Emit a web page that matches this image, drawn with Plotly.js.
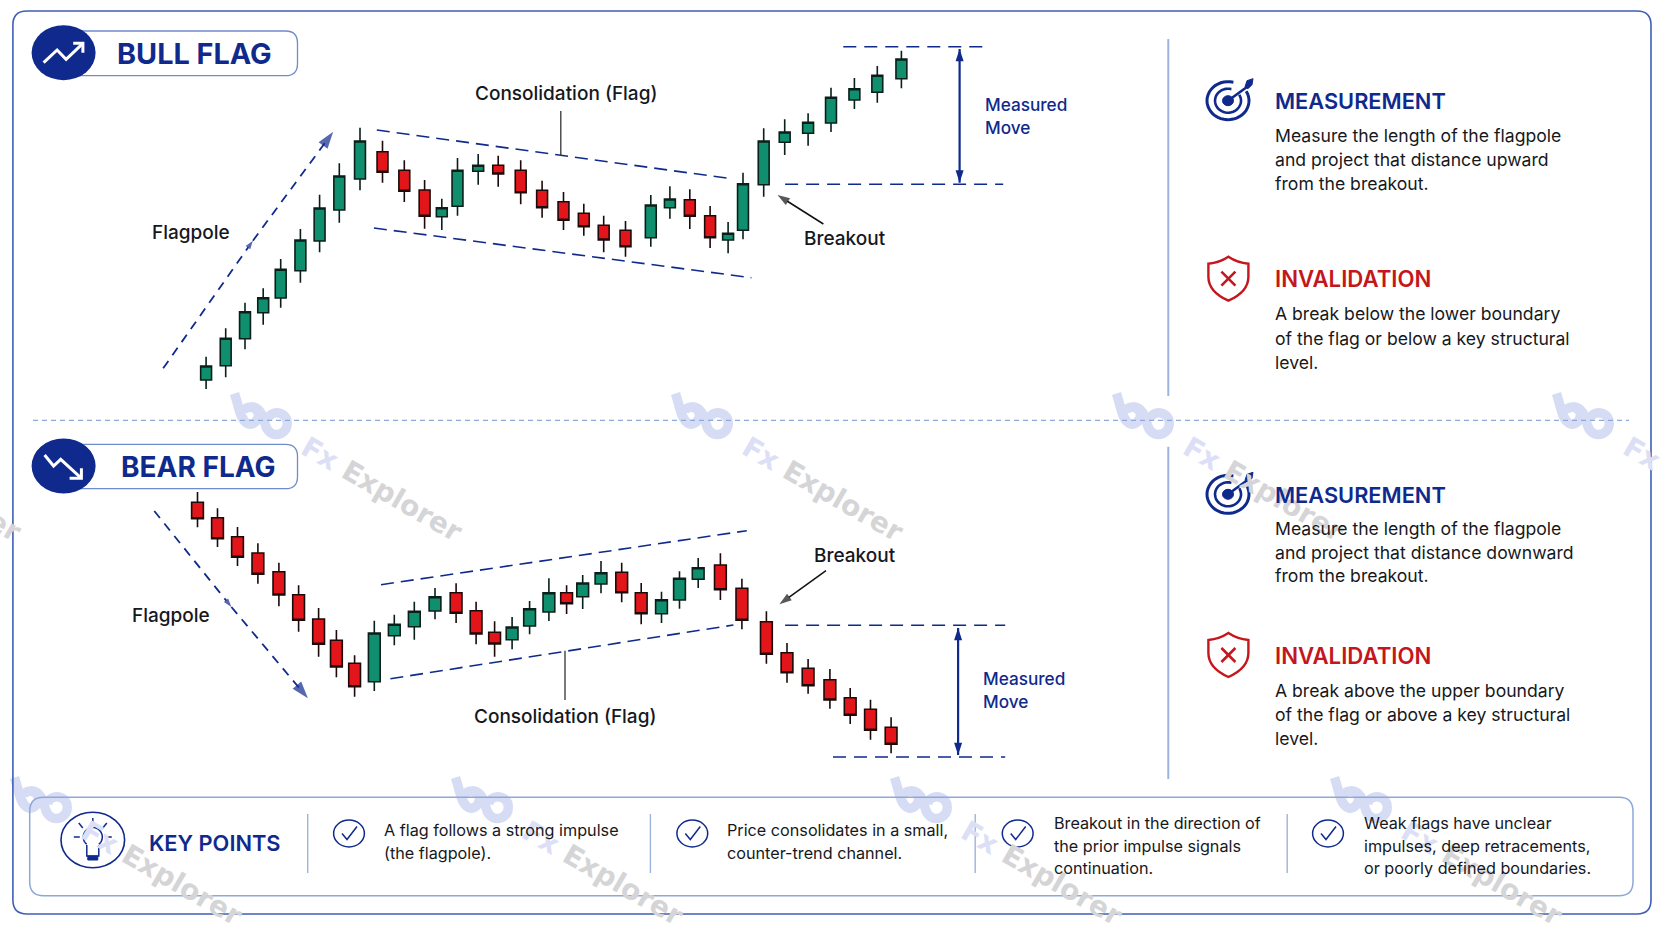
<!DOCTYPE html>
<html>
<head>
<meta charset="utf-8">
<title>Bull flag and bear flag</title>
<script src="https://cdn.plot.ly/plotly-3.0.1.min.js"></script>
<style>html,body{margin:0;padding:0;background:#fff}</style>
</head>
<body>
<div id="chart" style="width:1664px;height:928px"></div>
<script>
// Bull flag candles, oldest first. Price is in chart units, bar position along the same scale as the page.
var bullBar = [206.1,225.7,245,263.2,280.7,300.4,319.6,339.3,360,382.5,404.3,424.6,441.8,457.5,478.2,498.2,520.7,542.1,563.5,583.8,603.7,625.5,650.8,669.9,689.8,710.1,728.1,743,763.7,784.7,808.1,831,854.4,877.3,901.4];
var bullOpen = [20,34.3,61.3,87.3,102,129.3,159,190,221,248.3,229.7,210,183.3,193.7,228.7,234.7,229.7,209.7,198.3,186.7,174.7,169.7,162.3,192.3,200.3,184.3,160,169.7,215.3,257.7,266.7,277,300,307.7,321.3];
var bullClose = [34,61.7,88.3,102.3,130.7,160,192,224,259,227.7,208.7,183.7,192.3,229.7,234.7,226,207.3,192.3,179.7,173.3,160,153.3,195,201,183.7,162.3,166.7,216.3,259,268,277.7,302.7,311.3,324.7,341];
var bullHigh = [43.3,71.7,97.3,111.7,141,171,205.3,236.7,272.3,259.3,239.7,220,201.3,242,246,244.3,239.7,219.3,208,196.3,184.3,179,205,213.7,210.7,194,178,227.3,271.7,280.7,286.7,312.3,322,334,349.3];
var bullLow = [11,22.7,50.7,75.3,92.3,117.3,147.7,177.3,209.7,217.3,198,171.3,170,184.3,215.3,213.3,195.7,182.3,170,164.3,147.7,143.3,153.3,181.3,171,152,146.7,160.7,203.3,245,254.3,268,291,297.3,311.7];

// Bear flag candles
var bearBar = [197.5,217.5,237.5,257.9,278.9,298.6,318.6,336.4,354.6,374.3,394.3,414.3,435,456.1,476.1,494.6,512.1,529.6,548.9,566.6,582.7,601,621.7,641.2,661.5,679.5,698.2,720.4,741.9,766.4,787,808.1,829.9,850.2,870.5,891.1];
var bearOpen = [297.7,282.3,263.3,247,228.3,205.3,181,159.7,136.7,118.3,164.3,173.3,189,207.3,189.3,167.7,160.3,174,188,207.3,203.3,216,227.7,207.3,186.3,200,220.7,235,211.7,178.3,147.3,131.7,120.3,102.3,90.7,72.7];
var bearClose = [281.3,261.3,242.7,225.7,205,179.7,155.7,133,113.3,167,175.7,188.7,203.3,186.7,166,156,173,191.3,207.3,196.3,217,227.3,207.3,186.3,200.3,221.7,232.3,210.3,179.7,145.7,127.3,114.3,100,84.7,69.7,55.7];
var bearHigh = [308,291.7,273,256.7,237.3,214.7,192,170,144.7,179.3,185.3,198.3,212,216.7,198.3,178.7,183,199,221.7,214.7,225,239,237.3,217,208.3,228.7,242,246.7,221.3,188.7,157,141,131,112,100.3,82.7];
var bearLow = [272.7,253,234,216.3,193.7,168.3,143.3,122.7,103.3,109,154.7,160.3,180.7,177,155.7,143.3,150.7,165.7,179,186,191,206.7,197.7,175.7,177,191.3,212,200,170.7,136.3,117.3,106.3,91.3,76,60.3,46.7];

// Guide lines, same units as the candles
var bullPoleX = [163.2,252.9,333.2], bullPoleY = [31.7,159.3,268.3];
var bullUpperX = [376.8,733.4], bullUpperY = [270,221];
var bullLowerX = [373.9,751.4], bullLowerY = [172,122.3];
var bullLeaderX = [560.8,560.8], bullLeaderY = [289,245];
var bullBreakX = [823.4,777.5], bullBreakY = [176,205];
var bullTargetX = [843.3,985.3], bullTargetY = [353.3,353.3];
var bullBaseX = [785.1,1003.2], bullBaseY = [215.7,215.7];
var bullMoveX = [959.6,959.6], bullMoveY = [351,217.3];

var bearPoleX = [154.3,231.4,307.9], bearPoleY = [289,193,101.7];
var bearUpperX = [381,746.8], bearUpperY = [215.3,269.3];
var bearLowerX = [390.4,733.4], bearLowerY = [121.3,175];
var bearLeaderX = [565,565], bearLeaderY = [149.3,100];
var bearBreakX = [826,779.4], bearBreakY = [229.3,195.7];
var bearTargetX = [785.1,1005.2], bearTargetY = [174.7,174.7];
var bearBaseX = [833,1005.2], bearBaseY = [43,43];
var bearMoveX = [958.1,958.1], bearMoveY = [172,45];

// Text
var bullNotes = ['Measure the length of the flagpole','and project that distance upward','from the breakout.'];
var bullStops = ['A break below the lower boundary','of the flag or below a key structural','level.'];
var bearNotes = ['Measure the length of the flagpole','and project that distance downward','from the breakout.'];
var bearStops = ['A break above the upper boundary','of the flag or above a key structural','level.'];
var keyPoints = [
  ['A flag follows a strong impulse','(the flagpole).'],
  ['Price consolidates in a small,','counter-trend channel.'],
  ['Breakout in the direction of','the prior impulse signals','continuation.'],
  ['Weak flags have unclear','impulses, deep retracements,','or poorly defined boundaries.']
];
var keyTextX = [384.6,727.8,1054.8,1364];
var keyCheckX = [349,692.3,1017.7,1328];
var keyRuleX = [307.7,650.4,975.2,1287.2];
var markX = [-179,262,703,1144,1584,42,483,922,1362];
var markY = [418,418,418,418,418,802,802,802,802];

var NAVY = '#0f2a8c', RED = '#c4161c', INK = '#16181d', RULE = '#9db4de', GREEN = '#0f8f6d', CANDLE_RED = '#e2161a';
var FONT = 'Inter, "Noto Sans", sans-serif';
var W = 1664, H = 928;

function candles(x, o, h, l, c, xa, ya){
  return {
    type:'candlestick', x:x, open:o, high:h, low:l, close:c, xaxis:xa, yaxis:ya,
    whiskerwidth:0, hoverinfo:'skip', showlegend:false,
    increasing:{fillcolor:GREEN, line:{color:'#0b1f1a', width:1.6}},
    decreasing:{fillcolor:CANDLE_RED, line:{color:'#1c0a0a', width:1.6}}
  };
}
function guide(x, y, xa, ya, color, width, dash){
  return {type:'scatter', mode:'lines', x:x, y:y, xaxis:xa, yaxis:ya, hoverinfo:'skip', showlegend:false,
    line:{color:color, width:width, dash:dash || 'solid'}};
}
// line with arrow marks following its direction
function arrowLine(x, y, xa, ya, color, width, dash, sizes){
  var t = guide(x, y, xa, ya, color, width, dash);
  t.mode = 'lines+markers';
  t.marker = {symbol:'arrow', size:sizes, color:color, angleref:'previous', line:{width:0}};
  return t;
}
function doubleArrow(x, y, xa, ya){
  var t = guide(x, y, xa, ya, NAVY, 2.2);
  t.mode = 'lines+markers';
  t.marker = {symbol:'arrow', size:13, color:NAVY, angle:[0,180], line:{width:0}};
  return t;
}

var traces = [
  candles(bullBar, bullOpen, bullHigh, bullLow, bullClose, 'x', 'y'),
  candles(bearBar, bearOpen, bearHigh, bearLow, bearClose, 'x2', 'y2'),
  arrowLine(bullPoleX, bullPoleY, 'x', 'y', NAVY, 1.8, '9px,7px', [0,9,18]),
  guide(bullUpperX, bullUpperY, 'x', 'y', NAVY, 1.6, '13px,7px'),
  guide(bullLowerX, bullLowerY, 'x', 'y', NAVY, 1.6, '13px,7px'),
  guide(bullLeaderX, bullLeaderY, 'x', 'y', '#333', 1.3),
  arrowLine(bullBreakX, bullBreakY, 'x', 'y', '#111', 1.5, 'solid', [0,13]),
  guide(bullTargetX, bullTargetY, 'x', 'y', NAVY, 1.4, '13px,8px'),
  guide(bullBaseX, bullBaseY, 'x', 'y', NAVY, 1.4, '13px,8px'),
  doubleArrow(bullMoveX, bullMoveY, 'x', 'y'),
  arrowLine(bearPoleX, bearPoleY, 'x2', 'y2', NAVY, 1.8, '9px,7px', [0,9,18]),
  guide(bearUpperX, bearUpperY, 'x2', 'y2', NAVY, 1.6, '13px,7px'),
  guide(bearLowerX, bearLowerY, 'x2', 'y2', NAVY, 1.6, '13px,7px'),
  guide(bearLeaderX, bearLeaderY, 'x2', 'y2', '#333', 1.3),
  arrowLine(bearBreakX, bearBreakY, 'x2', 'y2', '#111', 1.5, 'solid', [0,13]),
  guide(bearTargetX, bearTargetY, 'x2', 'y2', NAVY, 1.4, '13px,8px'),
  guide(bearBaseX, bearBaseY, 'x2', 'y2', NAVY, 1.4, '13px,8px'),
  doubleArrow(bearMoveX, bearMoveY, 'x2', 'y2'),
  // keeps the page axes alive for the frame, icons and text
  {type:'scatter', mode:'markers', x:[0], y:[0], xaxis:'x3', yaxis:'y3', opacity:0, hoverinfo:'skip', showlegend:false}
];

// Shapes, all on the page axes x3/y3
var shapes = [];
function pathShape(d, color, width, fill, dash){
  shapes.push({type:'path', xref:'x3', yref:'y3', path:d, layer:'above',
    line:{color:color, width:width, dash:dash || 'solid'}, fillcolor:fill || 'rgba(0,0,0,0)'});
}
function oval(cx, cy, rx, ry, color, width, fill){
  shapes.push({type:'circle', xref:'x3', yref:'y3', x0:cx-rx, x1:cx+rx, y0:cy-ry, y1:cy+ry, layer:'above',
    line:{color:color, width:width}, fillcolor:fill || 'rgba(0,0,0,0)'});
}
function rule(x0, y0, x1, y1, color, width, dash){
  pathShape('M'+x0+','+y0+' L'+x1+','+y1, color, width, null, dash);
}
function roundRect(x0, y0, x1, y1, r){
  return 'M'+(x0+r)+','+y0+' H'+(x1-r)+' Q'+x1+','+y0+' '+x1+','+(y0+r)+' V'+(y1-r)+' Q'+x1+','+y1+' '+(x1-r)+','+y1+
    ' H'+(x0+r)+' Q'+x0+','+y1+' '+x0+','+(y1-r)+' V'+(y0+r)+' Q'+x0+','+y0+' '+(x0+r)+','+y0+' Z';
}
function arc(cx, cy, rx, ry, a0, a1){
  var d = '';
  for (var i = 0; i <= 36; i++){
    var a = (a0 + (a1-a0)*i/36)*Math.PI/180;
    d += (i ? ' L' : 'M') + (cx+rx*Math.cos(a)).toFixed(1) + ',' + (cy+ry*Math.sin(a)).toFixed(1);
  }
  return d;
}
// the watermark's linked loop, written relative to its centre
var LOGO = [['M',-25,-22],['C',-21,-10,-20,2,-13,5],['C',-5,8,0,-4,-6,-8],['C',-10,-11,-16,-10,-17,-5],
  ['M',-10,-10],['C',-2,-10,1,-2,3,6],['C',5,14,12,16,17,14],['C',25,10,25,-1,17,-4],['C',11,-6,6,-3,5,2]];
function watermarkLogo(cx, cy){
  var d = LOGO.map(function(p){
    var s = p[0];
    for (var i = 1; i < p.length; i += 2){ s += (i > 1 ? ' ' : '') + (cx+p[i]*1.1).toFixed(1) + ',' + (cy+p[i+1]*1.12).toFixed(1); }
    return s;
  }).join(' ');
  pathShape(d, '#d7dcf5', 9.5);
}
function target(cx, cy){
  pathShape(arc(cx, cy, 21, 19, -30, 285), NAVY, 3);
  pathShape(arc(cx, cy, 13, 12, -30, 285), NAVY, 2.6);
  oval(cx, cy, 5.5, 5, NAVY, 1, NAVY);
  rule(cx, cy, cx+22, cy-16, NAVY, 2.6);
  pathShape('M'+(cx+17)+','+(cy-14)+' L'+(cx+19)+','+(cy-20)+' L'+(cx+25)+','+(cy-22)+' L'+(cx+24)+','+(cy-16)+' L'+(cx+20)+','+(cy-12)+' Z', NAVY, 1, NAVY);
}
function shield(cx, cy){
  pathShape('M'+cx+','+(cy-22)+' Q'+(cx+9)+','+(cy-16)+' '+(cx+20)+','+(cy-15)+' L'+(cx+20)+','+(cy-2)+
    ' Q'+(cx+20)+','+(cy+13)+' '+cx+','+(cy+22)+' Q'+(cx-20)+','+(cy+13)+' '+(cx-20)+','+(cy-2)+' L'+(cx-20)+','+(cy-15)+
    ' Q'+(cx-9)+','+(cy-16)+' '+cx+','+(cy-22)+' Z', RED, 2.4);
  rule(cx-7, cy-7, cx+7, cy+7, RED, 2.6);
  rule(cx+7, cy-7, cx-7, cy+7, RED, 2.6);
}
function check(cx, cy){
  oval(cx, cy, 15.4, 13.4, NAVY, 1.5);
  pathShape('M'+(cx-7)+','+(cy)+' L'+(cx-2)+','+(cy+6)+' L'+(cx+8)+','+(cy-7), NAVY, 1.5);
}
function bulb(cx, cy){
  oval(cx, cy, 31.8, 27.7, NAVY, 1.6);
  pathShape(arc(cx, cy-3, 9.5, 9.5, 130, 410), NAVY, 1.5);
  pathShape('M'+(cx-6)+','+(cy+5)+' V'+(cy+16)+' H'+(cx+6)+' V'+(cy+5), NAVY, 1.5);
  pathShape('M'+(cx-5)+','+(cy+16)+' H'+(cx+5)+' V'+(cy+20)+' H'+(cx-5)+' Z', NAVY, 1, NAVY);
  rule(cx, cy-22, cx, cy-16, NAVY, 1.5);
  rule(cx-14, cy-17, cx-10, cy-12, NAVY, 1.5);
  rule(cx+14, cy-17, cx+10, cy-12, NAVY, 1.5);
  rule(cx-19, cy-3, cx-13, cy-3, NAVY, 1.5);
  rule(cx+19, cy-3, cx+13, cy-3, NAVY, 1.5);
}

markX.forEach(function(x, i){ watermarkLogo(x, markY[i]); });

pathShape(roundRect(12.9, 11, 1651, 914, 14), '#3f5fb5', 1.6);
rule(33, 420.3, 1629, 420.3, '#8fa8d9', 1.2, '5px,4px');
rule(1168.3, 39, 1168.3, 396, RULE, 2);
rule(1168.3, 446.7, 1168.3, 779, RULE, 2);

// Title pills, left ends hidden behind the discs
pathShape(roundRect(60, 31, 297.5, 75.7, 12), '#6f8bcb', 1.3, '#ffffff');
oval(63.6, 52.7, 32, 27.5, NAVY, 0, NAVY);
pathShape('M43.6,62.7 L57.1,50 L66.1,59.3 L82.9,43.3', '#ffffff', 3);
pathShape('M73.2,43.3 L82.9,43.3 L82.9,52.7', '#ffffff', 3);
pathShape(roundRect(60, 444.3, 297.5, 488.7, 12), '#6f8bcb', 1.3, '#ffffff');
oval(63.6, 466, 32, 27.5, NAVY, 0, NAVY);
pathShape('M44.6,455 L53.6,466 L60.7,459.3 L80.4,477.3', '#ffffff', 3);
pathShape('M69.6,478.3 L81.4,478.3 L81.4,468.3', '#ffffff', 3);

target(1228, 100.7);
shield(1228.4, 278.7);
target(1228, 494.3);
shield(1228.4, 655);

// Key points box
pathShape(roundRect(29.7, 797.3, 1633, 895.7, 14), '#8fa8d9', 1.5);
bulb(92.8, 840);
keyRuleX.forEach(function(x){ rule(x, 814, x, 873, RULE, 1.4); });
keyCheckX.forEach(function(x){ check(x, 833.5); });

// Annotations
var notes = [];
function label(x, y, text, size, color, weight, anchor){
  notes.push({xref:'x3', yref:'y3', x:anchor ? x : x-2.5, y:y, text:text, showarrow:false, xanchor:anchor || 'left', yanchor:'middle',
    font:{family:FONT, size:size, color:color, weight:weight || 400}});
}
// paper refs so the tiles running off the page edge are still drawn
markX.forEach(function(x, i){
  notes.push({xref:'paper', yref:'paper', x:(x+120)/W, y:1-(markY[i]+71)/H, xanchor:'center', yanchor:'middle', showarrow:false, textangle:30,
    text:'<span style="color:#dcdff5">Fx</span> Explorer',
    font:{family:'"DejaVu Sans", sans-serif', size:28, color:'#d5d5d7', weight:700}});
});

label(117.5, 53, 'BULL FLAG', 28.8, NAVY, 700);
label(121, 467, 'BEAR FLAG', 28, NAVY, 700);
label(565.6, 93.4, 'Consolidation (Flag)', 19, INK, 500, 'center');
label(191, 232.4, 'Flagpole', 19, INK, 500, 'center');
label(844.7, 238.8, 'Breakout', 19, INK, 500, 'center');
label(985.3, 104.7, 'Measured', 17.2, NAVY, 500);
label(985.3, 127, 'Move', 17.2, NAVY, 500);
label(564.5, 716.3, 'Consolidation (Flag)', 19, INK, 500, 'center');
label(170.8, 615.4, 'Flagpole', 19, INK, 500, 'center');
label(855.3, 555, 'Breakout', 19, INK, 500, 'center');
label(983.7, 678.7, 'Measured', 17.2, NAVY, 500);
label(983.7, 701.3, 'Move', 17.2, NAVY, 500);

label(1275.5, 100.7, 'MEASUREMENT', 21.8, NAVY, 600);
label(1275.5, 278.7, 'INVALIDATION', 22.2, RED, 600);
label(1275.5, 495.3, 'MEASUREMENT', 21.8, NAVY, 600);
label(1275.5, 655, 'INVALIDATION', 22.2, RED, 600);
function block(lines, x, ys, size){ lines.forEach(function(s, i){ label(x, ys[i], s, size, INK, 400); }); }
block(bullNotes, 1275.5, [135.3,159.5,183.3], 17.6);
block(bullStops, 1275.5, [313.3,338.5,362.5], 17.6);
block(bearNotes, 1275.5, [528,552.2,575.5], 17.6);
block(bearStops, 1275.5, [690,714.2,738], 17.6);

label(149.6, 842.7, 'KEY POINTS', 21.8, NAVY, 600);
keyPoints.forEach(function(lines, i){
  block(lines, keyTextX[i], lines.length == 2 ? [830,852.8] : [823,846,868.4], 16.2);
});

function hiddenAxis(extra){
  var a = {visible:false, fixedrange:true, showgrid:false, zeroline:false};
  for (var k in extra){ a[k] = extra[k]; }
  return a;
}
var layout = {
  width:W, height:H, margin:{l:0, r:0, t:0, b:0}, autosize:false,
  paper_bgcolor:'#ffffff', plot_bgcolor:'rgba(0,0,0,0)', showlegend:false, boxgap:0.27, boxgroupgap:0,
  xaxis:hiddenAxis({range:[0,W], domain:[0,1], anchor:'y', type:'linear', rangeslider:{visible:false}}),
  yaxis:hiddenAxis({range:[0,400], domain:[1-400/H,1], anchor:'x'}),
  xaxis2:hiddenAxis({range:[0,W], domain:[0,1], anchor:'y2', type:'linear', rangeslider:{visible:false}}),
  yaxis2:hiddenAxis({range:[0,400], domain:[1-800/H,1-400/H], anchor:'x2'}),
  xaxis3:hiddenAxis({range:[0,W], domain:[0,1], anchor:'y3'}),
  yaxis3:hiddenAxis({range:[H,0], domain:[0,1], anchor:'x3'}),
  shapes:shapes, annotations:notes
};
Plotly.newPlot('chart', traces, layout, {displayModeBar:false, staticPlot:true});
</script>
</body>
</html>
